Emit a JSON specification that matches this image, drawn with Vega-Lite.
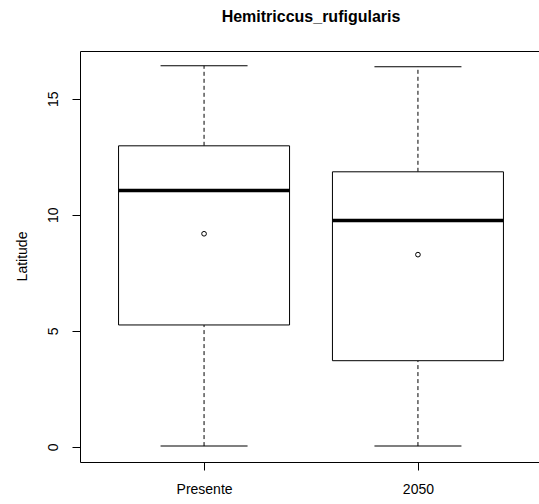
{
  "$schema": "https://vega.github.io/schema/vega-lite/v6.json",
  "width": 462,
  "height": 411,
  "autosize": {"type": "none"},
  "padding": {"left": 80, "top": 51, "right": 0, "bottom": 42},
  "background": "white",
  "title": {
    "text": "Hemitriccus_rufigularis",
    "font": "Liberation Sans",
    "fontSize": 16,
    "fontWeight": "bold",
    "color": "black",
    "anchor": "middle",
    "frame": "group",
    "offset": 26
  },
  "config": {
    "view": {"stroke": "black", "strokeWidth": 1},
    "font": "Liberation Sans",
    "axis": {
      "domain": false,
      "grid": false,
      "tickColor": "black",
      "tickSize": 8,
      "labelColor": "black",
      "labelFont": "Liberation Sans",
      "labelFontSize": 14,
      "titleFont": "Liberation Sans",
      "titleFontSize": 14,
      "titleFontWeight": "normal",
      "titleColor": "black"
    }
  },
  "data": {
    "values": [
      {"period": "Presente", "lower": 0.03, "q1": 5.25, "median": 11.04, "q3": 12.97, "upper": 16.42, "mean": 9.18},
      {"period": "2050", "lower": 0.03, "q1": 3.71, "median": 9.75, "q3": 11.85, "upper": 16.38, "mean": 8.28}
    ]
  },
  "encoding": {
    "x": {
      "field": "period",
      "type": "nominal",
      "sort": ["Presente", "2050"],
      "scale": {"type": "point", "padding": 0.58},
      "axis": {"title": null, "labelAngle": 0, "labelPadding": 12, "labelBaseline": "top"}
    }
  },
  "layer": [
    {
      "mark": {"type": "rule", "strokeDash": [4, 3], "color": "black", "strokeWidth": 1},
      "encoding": {
        "y": {
          "field": "lower",
          "type": "quantitative",
          "scale": {"domain": [-0.656, 17.056], "nice": false, "zero": false},
          "axis": {
            "title": "Latitude",
            "values": [0, 5, 10, 15],
            "labelAngle": 270,
            "labelAlign": "center",
            "labelBaseline": "bottom",
            "labelPadding": 12,
            "titleX": -58,
            "titleY": 205,
            "titleAngle": 270,
            "titleAlign": "center",
            "titleBaseline": "middle"
          }
        },
        "y2": {"field": "q1"}
      }
    },
    {
      "mark": {"type": "rule", "strokeDash": [4, 3], "color": "black", "strokeWidth": 1},
      "encoding": {
        "y": {"field": "q3", "type": "quantitative"},
        "y2": {"field": "upper"}
      }
    },
    {
      "mark": {"type": "bar", "size": 171, "fill": "white", "stroke": "black", "strokeWidth": 1, "opacity": 1},
      "encoding": {
        "y": {"field": "q1", "type": "quantitative"},
        "y2": {"field": "q3"}
      }
    },
    {
      "mark": {"type": "tick", "size": 87, "thickness": 1, "color": "black", "opacity": 1},
      "encoding": {"y": {"field": "lower", "type": "quantitative"}}
    },
    {
      "mark": {"type": "tick", "size": 87, "thickness": 1, "color": "black", "opacity": 1},
      "encoding": {"y": {"field": "upper", "type": "quantitative"}}
    },
    {
      "mark": {"type": "tick", "size": 171, "thickness": 3.5, "color": "black", "opacity": 1},
      "encoding": {"y": {"field": "median", "type": "quantitative"}}
    },
    {
      "mark": {"type": "point", "shape": "circle", "size": 22, "filled": false, "color": "black", "strokeWidth": 1, "opacity": 1},
      "encoding": {"y": {"field": "mean", "type": "quantitative"}}
    }
  ]
}
